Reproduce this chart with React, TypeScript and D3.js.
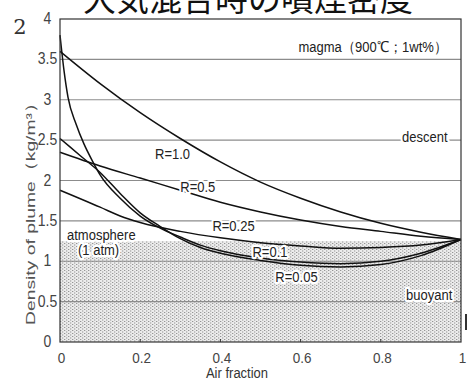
import React from 'react';
import * as d3 from 'd3';

// air fraction vs plume density (kg/m3)
const curveR10 = [[0, 3.6], [0.1, 3.2], [0.2, 2.84], [0.3, 2.52], [0.4, 2.23], [0.5, 1.98], [0.6, 1.78], [0.7, 1.61], [0.8, 1.47], [0.9, 1.36], [1, 1.27]];
const curveR05 = [[0, 2.35], [0.1, 2.18], [0.2, 2.03], [0.3, 1.88], [0.4, 1.73], [0.5, 1.61], [0.6, 1.51], [0.7, 1.43], [0.8, 1.37], [0.9, 1.31], [1, 1.27]];
const curveR025 = [[0, 1.88], [0.1, 1.67], [0.15, 1.56], [0.2, 1.48], [0.3, 1.37], [0.4, 1.29], [0.5, 1.23], [0.6, 1.19], [0.7, 1.16], [0.8, 1.17], [0.9, 1.2], [1, 1.27]];
const curveSteepHigh = [[0, 3.8], [0.01, 3.36], [0.02, 3.03], [0.04, 2.7], [0.06, 2.45], [0.08, 2.25], [0.1, 2.07], [0.15, 1.78], [0.2, 1.56], [0.25, 1.41], [0.3, 1.3], [0.35, 1.2], [0.4, 1.13], [0.5, 1.04], [0.6, 0.99], [0.7, 0.97], [0.8, 1.0], [0.9, 1.1], [1, 1.27]];
const curveSteepLow = [[0, 2.52], [0.05, 2.31], [0.1, 2.1], [0.15, 1.84], [0.2, 1.6], [0.25, 1.43], [0.3, 1.28], [0.35, 1.17], [0.4, 1.1], [0.5, 1.01], [0.6, 0.95], [0.7, 0.93], [0.8, 0.96], [0.9, 1.07], [1, 1.27]];
const curves = [curveR10, curveR05, curveR025, curveSteepHigh, curveSteepLow];

const xTicks = [0, 0.2, 0.4, 0.6, 0.8, 1];
const yTicks = [0, 0.5, 1, 1.5, 2, 2.5, 3, 3.5, 4];
const atmosphere = 1.25;

// label anchor points [x, y] in data units
const rLabels = [
  { text: 'R=1.0', at: [0.237, 2.27] },
  { text: 'R=0.5', at: [0.3, 1.86] },
  { text: 'R=0.25', at: [0.38, 1.38] },
  { text: 'R=0.1', at: [0.48, 1.05] },
  { text: 'R=0.05', at: [0.537, 0.74] },
];

const W = 468;
const H = 383;
const left = 60, right = 461, top = 19, bottom = 342;
const font = 'Liberation Sans, Arial, sans-serif';

// the scanned figure is slightly stretched vertically, so text is too
const Txt = ({ x, y, size = 13, anchor = 'start', fill = '#222', halo = false, children }: any) => (
  <text transform={`translate(${x},${y}) scale(1,1.12)`} textAnchor={anchor} fontSize={size}
    fontFamily={font} fill={fill}
    {...(halo ? { stroke: '#fff', strokeWidth: 4, paintOrder: 'stroke', strokeLinejoin: 'round' } : {})}>
    {children}
  </text>
);

export default function App() {
  const x = d3.scaleLinear().domain([0, 1]).range([left, right]);
  const y = d3.scaleLinear().domain([0, 4]).range([bottom, top]);
  const line = d3.line<number[]>()
    .x(d => x(d[0]))
    .y(d => y(d[1]))
    .curve(d3.curveMonotoneX);

  return (
    <div style={{ position: 'absolute', left: 0, top: 0 }}>
      <svg width={W} height={H} style={{ display: 'block', background: '#fff' }}>
        <defs>
          <pattern id="dots" width="4" height="3" patternUnits="userSpaceOnUse">
            <rect width="4" height="3" fill="#ececec" />
            <rect x="0" y="0" width="1.3" height="1" fill="#959595" />
            <rect x="2" y="1.5" width="1.3" height="1" fill="#959595" />
          </pattern>
        </defs>

        <text x={248} y={11} textAnchor="middle" fontSize={33}
          fontFamily="Noto Sans CJK JP" fill="#111">大気混合時の噴煙密度</text>
        <text x={20} y={34} textAnchor="middle" fontSize={21}
          fontFamily="DejaVu Serif, Liberation Serif, serif" fill="#333">2</text>

        <rect x={left} y={y(atmosphere)} width={right - left} height={bottom - y(atmosphere)} fill="url(#dots)" />

        {yTicks.filter(t => t > 0 && t < 4).map(t => (
          <line key={t} x1={left} x2={right} y1={y(t)} y2={y(t)} stroke="#8c8c8c" strokeWidth={1.1} />
        ))}

        {xTicks.filter(t => t > 0 && t < 1).map(t => (
          <line key={t} x1={x(t)} x2={x(t)} y1={bottom} y2={bottom - 3} stroke="#333" strokeWidth={1} />
        ))}

        {curves.map((c, i) => (
          <path key={i} d={line(c) ?? ''} fill="none" stroke="#111" strokeWidth={1.5} />
        ))}

        {rLabels.map(l => (
          <Txt key={l.text} x={x(l.at[0])} y={y(l.at[1])} halo>{l.text}</Txt>
        ))}

        <Txt x={447} y={52} anchor="end">magma（900℃；1wt%）</Txt>
        <Txt x={402} y={142} halo>descent</Txt>
        <Txt x={406} y={300} halo>buoyant</Txt>
        <Txt x={67} y={240} halo>atmosphere</Txt>
        <Txt x={78} y={255} halo>(1 atm)</Txt>

        <rect x={left} y={top} width={right - left} height={bottom - top} fill="none" stroke="#333" strokeWidth={1.2} />

        {yTicks.map(t => (
          <Txt key={t} x={47.5} y={y(t) + 5} anchor="middle" size={14} fill="#444">{t}</Txt>
        ))}
        {xTicks.map(t => (
          <Txt key={t} x={x(t) + 1.5} y={363} anchor="middle" size={13.5} fill="#444">{t}</Txt>
        ))}

        <Txt x={237} y={378} anchor="middle" size={13} fill="#333">Air fraction</Txt>
        <text transform="translate(35,209) rotate(-90)" textAnchor="middle" fontSize={13.5} fontFamily={font} fill="#555"
          textLength={232} lengthAdjust="spacingAndGlyphs">Density of plume（kg/m³）</text>

        <line x1={466} x2={466} y1={314} y2={330} stroke="#333" strokeWidth={2} />
      </svg>
    </div>
  );
}
